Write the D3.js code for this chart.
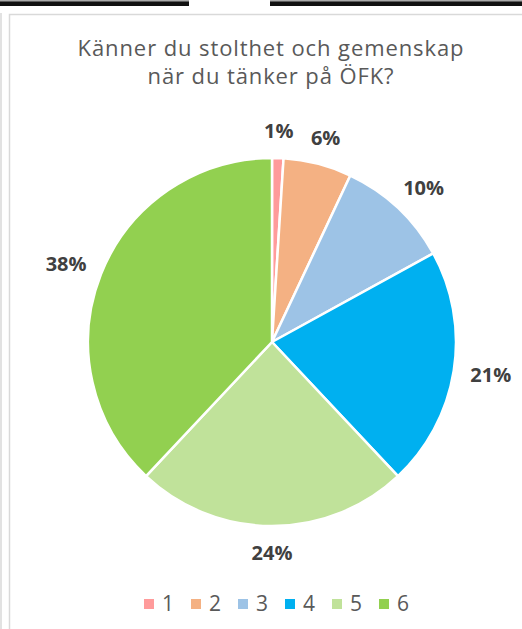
<!DOCTYPE html>
<html>
<head>
<meta charset="utf-8">
<script src="https://cdn.jsdelivr.net/npm/d3@7"></script>
<style>
  body { margin: 0; background: #fff; }
  svg { display: block; font-family: "Open Sans", sans-serif; }
</style>
</head>
<body>
<div id="chart"></div>
<script>
// data
const categories = ["1", "2", "3", "4", "5", "6"];
const values = [1, 6, 10, 21, 24, 38];
const colors = ["#FF9B9B", "#F4B183", "#9DC3E6", "#00B0F0", "#C0E29A", "#92D050"];
const titleLines = ["Känner du stolthet och gemenskap", "när du tänker på ÖFK?"];

const width = 522, height = 629;

const svg = d3.select("#chart")
  .append("svg")
  .attr("width", width)
  .attr("height", height);

// fragments of the boxes above the chart
svg.append("rect").attr("x", 0).attr("y", 0).attr("width", 189).attr("height", 6).attr("fill", "#111");
svg.append("rect").attr("x", 270).attr("y", 0).attr("width", 252).attr("height", 6).attr("fill", "#111");
svg.append("rect").attr("x", 0).attr("y", 0).attr("width", 189).attr("height", 1.5).attr("fill", "#aaa");
svg.append("rect").attr("x", 270).attr("y", 0).attr("width", 252).attr("height", 1.5).attr("fill", "#aaa");

// chart frame
svg.append("line").attr("x1", 1).attr("x2", 1).attr("y1", 13).attr("y2", height)
  .attr("stroke", "#d9d9d9").attr("stroke-width", 1.5);
svg.append("path")
  .attr("d", "M9.5," + height + "V14.5H" + width)
  .attr("fill", "none").attr("stroke", "#d9d9d9").attr("stroke-width", 1.5);

// title
svg.append("text")
  .attr("x", 271)
  .attr("y", 56)
  .attr("text-anchor", "middle")
  .attr("fill", "#595959")
  .style("font-size", "22px")
  .style("letter-spacing", "0.9px")
  .selectAll("tspan")
  .data(titleLines)
  .enter()
  .append("tspan")
  .attr("x", 271)
  .attr("dy", function (d, i) { return i === 0 ? 0 : 28; })
  .text(function (d) { return d; });

// pie
const cx = 272, cy = 342, r = 184;
const g = svg.append("g").attr("transform", "translate(" + cx + "," + cy + ")");

const pie = d3.pie().sort(null).value(function (d) { return d.value; });
const arc = d3.arc().innerRadius(0).outerRadius(r);

const slices = pie(values.map(function (v, i) { return { name: categories[i], value: v, color: colors[i] }; }));
const total = d3.sum(values);

g.selectAll("path.slice")
  .data(slices)
  .enter()
  .append("path")
  .attr("class", "slice")
  .attr("d", arc)
  .attr("fill", function (d) { return d.data.color; })
  .attr("stroke", "#fff")
  .attr("stroke-width", 2.5)
  .attr("stroke-linejoin", "round");

// outside-end labels: box sits just outside the rim at the mid angle
const gap = 17, halfH = 10;
const labels = g.selectAll("text.lbl")
  .data(slices)
  .enter()
  .append("text")
  .attr("class", "lbl")
  .attr("text-anchor", "middle")
  .attr("dy", "0.35em")
  .attr("fill", "#404040")
  .style("font-size", "20px")
  .style("font-weight", "bold")
  .text(function (d) { return Math.round(d.data.value / total * 100) + "%"; });

labels.each(function (d) {
  const a = (d.startAngle + d.endAngle) / 2;
  const hw = this.getComputedTextLength() / 2;
  d3.select(this)
    .attr("x", Math.sin(a) * (r + gap + hw))
    .attr("y", -Math.cos(a) * (r + gap + halfH));
});

// legend
const legendX = d3.scalePoint().domain(categories).range([144, 379]);
const legend = svg.selectAll("g.legend")
  .data(categories)
  .enter()
  .append("g")
  .attr("class", "legend")
  .attr("transform", function (d) { return "translate(" + legendX(d) + ",599)"; });

legend.append("rect")
  .attr("width", 10)
  .attr("height", 10)
  .attr("fill", function (d, i) { return colors[i]; });

legend.append("text")
  .attr("x", 18)
  .attr("y", 12)
  .attr("fill", "#595959")
  .style("font-size", "21px")
  .text(function (d) { return d; });
</script>
</body>
</html>
